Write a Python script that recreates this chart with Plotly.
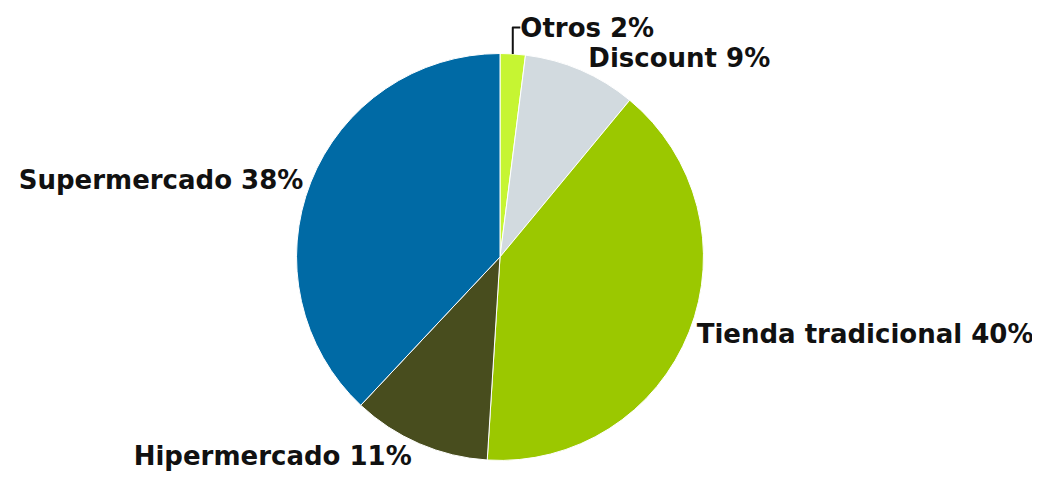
import plotly.graph_objects as go

labels = ["Otros", "Discount", "Tienda tradicional", "Hipermercado", "Supermercado"]
values = [2, 9, 40, 11, 38]
colors = ["#c6f532", "#d2dadf", "#9bc800", "#484d1e", "#006aa5"]

fig = go.Figure(go.Pie(
    labels=labels,
    values=values,
    sort=False,
    direction="clockwise",
    rotation=0,
    marker=dict(colors=colors, line=dict(color="#ffffff", width=1)),
    texttemplate="%{label} %{value}%",
    textposition="outside",
    outsidetextfont=dict(family="DejaVu Sans", size=26, color="#111111", weight="bold"),
    showlegend=False,
    hoverinfo="label+percent",
    domain=dict(x=[286/1040, 698/1040], y=[1 - 452/486, 1 - 40/486]),
))

fig.update_layout(
    width=1040, height=486,
    margin=dict(l=0, r=0, t=0, b=0),
    paper_bgcolor="white",
    plot_bgcolor="white",
)

fig.write_html("out.html")
